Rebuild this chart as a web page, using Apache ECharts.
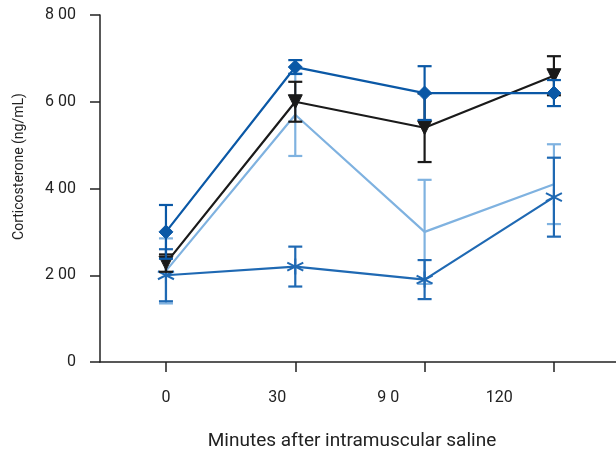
<!DOCTYPE html>
<html>
<head>
<meta charset="utf-8">
<script src="https://cdn.jsdelivr.net/npm/echarts@6/dist/echarts.min.js"></script>
<style>
  html, body { margin: 0; padding: 0; background: #fff; }
  #main { width: 616px; height: 453px; }
</style>
</head>
<body>
<div id="main"></div>
<script>
// time points (index on the x axis) and their printed labels
const timeIdx = [0, 1, 2, 3]
const timeLabels = ['0', '30', '9 0', '120']
const yTicks = ['0', '2 00', '4 00', '6 00', '8 00']

// corticosterone means and error half-widths
const diamondMean = [300, 680, 620, 620]
const diamondErr = [62, 16, 62, 30]
const triangleMean = [228, 600, 540, 660]
const triangleErr = [20, 46, 79, 45]
const lightMean = [210, 570, 300, 410]
const lightErr = [75, 95, 120, 92]
const starMean = [200, 220, 190, 380]
const starErr = [60, 46, 45, 91]

const font = 'Roboto, sans-serif'
const asterisk = 'path://M0,-10L0,10M-8.66,-5L8.66,5M-8.66,5L8.66,-5'

function errSeries(mean, err, color, z) {
  return {
    type: 'custom',
    z: z,
    silent: true,
    data: mean.map((m, i) => [timeIdx[i], m - err[i], m + err[i]]),
    renderItem: function (params, api) {
      const lo = api.coord([api.value(0), api.value(1)])
      const hi = api.coord([api.value(0), api.value(2)])
      const w = 7
      const style = { stroke: color, lineWidth: 2.2 }
      return {
        type: 'group',
        children: [
          { type: 'line', shape: { x1: hi[0], y1: hi[1], x2: lo[0], y2: lo[1] }, style: style },
          { type: 'line', shape: { x1: hi[0] - w, y1: hi[1], x2: hi[0] + w, y2: hi[1] }, style: style },
          { type: 'line', shape: { x1: lo[0] - w, y1: lo[1], x2: lo[0] + w, y2: lo[1] }, style: style }
        ]
      }
    }
  }
}

function lineSeries(mean, color, symbol, size, z, extra) {
  return Object.assign({
    type: 'line',
    z: z,
    data: mean.map((m, i) => [timeIdx[i], m]),
    symbol: symbol,
    symbolSize: size,
    showSymbol: symbol !== 'none',
    lineStyle: { color: color, width: 2.2 },
    itemStyle: { color: color, borderColor: color },
    animation: false
  }, extra || {})
}

const chart = echarts.init(document.getElementById('main'))
chart.setOption({
  animation: false,
  title: {
    text: 'Minutes after intramuscular saline',
    left: 347,
    top: 427,
    textAlign: 'center',
    textStyle: { fontFamily: font, fontSize: 19, fontWeight: 'normal', color: '#222' }
  },
  grid: { left: 100, right: 0, top: 15, bottom: 91 },
  xAxis: [
    {
      type: 'value',
      min: -0.51,
      max: 3.48,
      axisLine: { show: true, onZero: false, lineStyle: { color: '#222', width: 1.5 } },
      axisTick: { show: true, length: 10, customValues: timeIdx, lineStyle: { color: '#222', width: 1.5 } },
      axisLabel: { show: false },
      splitLine: { show: false }
    },
    {
      type: 'value',
      position: 'bottom',
      min: -0.595,
      max: 4.05,
      axisLine: { show: false },
      axisTick: { show: false },
      splitLine: { show: false },
      axisLabel: {
        customValues: timeIdx,
        margin: 28,
        fontFamily: font,
        fontSize: 16,
        color: '#222',
        formatter: v => timeLabels[v]
      }
    }
  ],
  yAxis: {
    type: 'value',
    min: 0,
    max: 800,
    interval: 200,
    name: 'Corticosterone (ng/mL)',
    nameLocation: 'middle',
    nameGap: 74,
    nameTextStyle: { fontFamily: font, fontSize: 14, color: '#222', padding: [0, 0, 0, 44] },
    axisLine: { show: true, onZero: false, lineStyle: { color: '#222', width: 1.5 } },
    axisTick: { show: true, length: 10, lineStyle: { color: '#222', width: 1.5 } },
    axisLabel: {
      margin: 24,
      fontFamily: font,
      fontSize: 16,
      color: '#222',
      formatter: v => yTicks[v / 200]
    },
    splitLine: { show: false }
  },
  series: [
    errSeries(lightMean, lightErr, '#7fb2e0', 2),
    lineSeries(lightMean, '#7fb2e0', 'none', 0, 3),
    errSeries(starMean, starErr, '#1f69b3', 4),
    lineSeries(starMean, '#1f69b3', asterisk, 16, 5, { itemStyle: { color: 'none', borderColor: '#1f69b3', borderWidth: 2 } }),
    errSeries(triangleMean, triangleErr, '#1a1a1a', 6),
    lineSeries(triangleMean, '#1a1a1a', 'triangle', 14, 7, { symbolRotate: 180 }),
    errSeries(diamondMean, diamondErr, '#0a58a6', 8),
    lineSeries(diamondMean, '#0a58a6', 'diamond', 14, 9)
  ]
})
</script>
</body>
</html>
